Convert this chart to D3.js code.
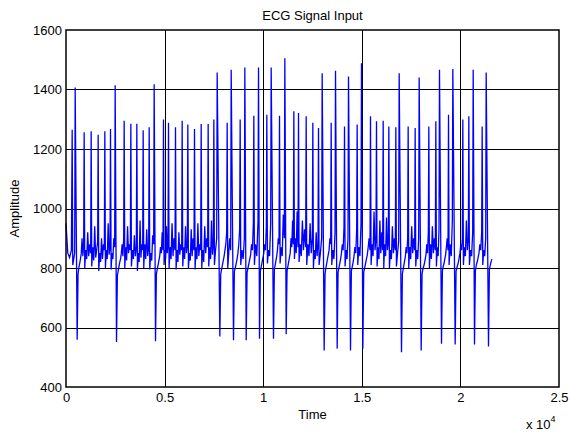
<!DOCTYPE html>
<html>
<head>
<meta charset="utf-8">
<script src="https://cdn.jsdelivr.net/npm/d3@7"></script>
<style>
  body { margin: 0; background: #fff; }
  text { font-family: Arial, "Liberation Sans", Helvetica, sans-serif; }
</style>
</head>
<body>
<div id="container"></div>
<script>
let w = 571;
let h = 432;

// beats: sample index of the R peak, its amplitude
let beatTime = [313, 465, 921, 1276, 1631, 1969, 2257, 2493, 2950, 3288, 3592, 3913, 4218, 4471, 4944, 5198,
  5553, 5891, 6178, 6516, 6855, 7209, 7497, 7666, 8173, 8376, 8832, 9069, 9525, 9762, 10184, 10404,
  10827, 11097, 11554, 11790, 12179, 12517, 12804, 12990, 13447, 13667, 14123, 14325, 14765, 14985,
  15441, 15745, 16084, 16371, 16726, 16895, 17351, 17706, 17909, 18399, 18754, 18940, 19397, 19616,
  20123, 20428, 20648, 21104, 21307];
let beatPeak = [1265, 1407, 1256, 1260, 1248, 1260, 1267, 1414, 1295, 1285, 1285, 1263, 1273, 1418, 1299, 1288,
  1273, 1295, 1282, 1267, 1284, 1284, 1299, 1457, 1288, 1466, 1299, 1474, 1312, 1474, 1315, 1474,
  1312, 1505, 1327, 1321, 1310, 1288, 1271, 1455, 1288, 1463, 1276, 1444, 1282, 1488,
  1310, 1293, 1295, 1276, 1273, 1455, 1276, 1271, 1440, 1276, 1293, 1466, 1315, 1469,
  1299, 1310, 1466, 1276, 1457];
// ectopic beats: where the deep trough lies and how deep (null = normal beat)
let troughTime = [null, 566, null, null, null, null, null, 2561, null, null, null, null, null, 4539, null, null,
  null, null, null, null, null, null, null, 7801, null, 8494, null, 9137, null, 9813, null, 10522,
  null, 11165, null, null, null, null, null, 13092, null, 13751, null, 14427, null, 15053,
  null, null, null, null, null, 17013, null, null, 18011, null, null, 19042, null, 19735,
  null, null, 20715, null, 21425];
let troughValue = [null, 559, null, null, null, null, null, 551, null, null, null, null, null, 554, null, null,
  null, null, null, null, null, null, null, 570, null, 557, null, 557, null, 562, null, 562,
  null, 577, null, null, null, null, null, 523, null, 529, null, 523, null, 529,
  null, null, null, null, null, 517, null, null, 523, null, null, 545, null, 543,
  null, null, 543, null, 536];
// baseline wiggle between beats, estimated by eye
let leadIn = [950, 850, 835, 860];
let rest = [
  [810, 850],
  [780, 800, 815, 830, 850, 900, 840, 880],
  [800, 860, 830, 920, 840, 880, 850],
  [805, 870, 825, 940, 835, 860, 890],
  [790, 850, 820, 900, 830, 880, 860],
  [800, 860, 830, 950, 845, 870],
  [795, 850, 830, 900, 870],
  [775, 790, 805, 820, 830, 850, 880, 840, 900],
  [800, 870, 825, 940, 850, 880, 860],
  [805, 860, 830, 910, 840, 870],
  [790, 850, 820, 960, 835, 880, 860],
  [800, 880, 830, 930, 840, 870],
  [795, 850, 825, 910, 880],
  [780, 795, 810, 825, 840, 870, 850, 920, 860],
  [810, 860, 830, 940, 850, 880],
  [800, 870, 830, 950, 840, 900, 860],
  [795, 860, 820, 920, 845, 880, 860],
  [805, 870, 830, 940, 850, 880],
  [800, 850, 825, 930, 840, 900, 860],
  [795, 870, 830, 950, 840, 880, 860],
  [800, 860, 820, 940, 850, 900, 870],
  [805, 870, 830, 960, 845, 880],
  [810, 860, 900],
  [780, 795, 810, 825, 840, 860, 880, 920],
  [800, 850, 900, 860],
  [790, 800, 815, 830, 850, 880, 930],
  [810, 860, 830, 900],
  [785, 800, 815, 830, 845, 880, 860, 950],
  [810, 880, 840, 960],
  [790, 805, 820, 835, 850, 880, 860, 940],
  [815, 860, 840, 950],
  [795, 810, 825, 840, 860, 900, 880],
  [815, 870, 840, 980, 900],
  [790, 805, 820, 835, 850, 900, 870, 960, 880],
  [830, 900, 850, 990, 870],
  [820, 880, 840, 960, 860, 930, 870],
  [810, 880, 840, 950, 850, 900],
  [800, 860, 830, 920, 840, 880],
  [810, 850, 900],
  [780, 800, 815, 830, 845, 860, 900, 880],
  [810, 860, 830, 920],
  [785, 800, 815, 830, 850, 880, 860, 940],
  [805, 860, 830, 900],
  [790, 805, 820, 840, 870, 850, 930],
  [810, 870, 840, 950],
  [785, 800, 815, 830, 845, 870, 900, 860],
  [810, 880, 840, 990, 860, 900],
  [805, 870, 830, 960, 850, 920, 860],
  [800, 880, 840, 970, 860, 890],
  [800, 860, 830, 940, 850, 900, 860],
  [805, 850, 890],
  [780, 795, 810, 825, 840, 870, 850, 900],
  [800, 870, 830, 940, 850, 900, 860],
  [805, 860, 830, 900],
  [780, 795, 805, 815, 830, 845, 880, 850, 920],
  [800, 880, 830, 940, 850, 900, 860],
  [805, 870, 840, 930],
  [790, 805, 815, 830, 845, 870, 900, 860],
  [810, 880, 840, 960],
  [790, 800, 810, 820, 835, 850, 880, 860, 900],
  [810, 870, 840, 960, 860, 900],
  [810, 860, 840, 920],
  [790, 810, 820, 835, 850, 880, 860, 920],
  [810, 860, 840, 900],
  [795, 815, 830]
];
let endTime = 21594;

let xTicks = [0, 5000, 10000, 15000, 20000, 25000];
let xTickLabels = ["0", "0.5", "1", "1.5", "2", "2.5"];
let yTicks = [400, 600, 800, 1000, 1200, 1400, 1600];

let padLeft = 66, padRight = 559, padTop = 30, padBottom = 387;

let viz = d3.select("#container")
  .append("svg")
    .attr("width", w)
    .attr("height", h)
    .style("background-color", "white")
;

let xScale = d3.scaleLinear().domain([0, 25000]).range([padLeft, padRight]);
let yScale = d3.scaleLinear().domain([400, 1600]).range([padBottom, padTop]);

// build the trace from the beat lists
let pts = [];
leadIn.forEach(function(v, k){
  pts.push([k * (beatTime[0] - 40) / (leadIn.length - 1), v]);
});
beatTime.forEach(function(t, i){
  pts.push([t, beatPeak[i]]);
  let start = t + 30;
  if (troughTime[i] != null){
    pts.push([troughTime[i], troughValue[i]]);
    start = troughTime[i] + 45;
  }
  let stop = (i < beatTime.length - 1) ? beatTime[i + 1] - 25 : endTime;
  let vals = rest[i];
  vals.forEach(function(v, k){
    let tt = vals.length == 1 ? start : start + k * (stop - start) / (vals.length - 1);
    pts.push([tt, v]);
  });
});

// grid
let grid = viz.append("g").attr("class", "grid");
grid.selectAll(".vgrid").data(xTicks.slice(1, -1)).enter()
  .append("line")
    .attr("x1", d => Math.round(xScale(d)) + 0.5)
    .attr("x2", d => Math.round(xScale(d)) + 0.5)
    .attr("y1", padTop)
    .attr("y2", padBottom)
    .attr("stroke", "black")
    .attr("stroke-width", 1)
;
grid.selectAll(".hgrid").data(yTicks.slice(1, -1)).enter()
  .append("line")
    .attr("x1", padLeft)
    .attr("x2", padRight)
    .attr("y1", d => Math.round(yScale(d)) + 0.5)
    .attr("y2", d => Math.round(yScale(d)) + 0.5)
    .attr("stroke", "black")
    .attr("stroke-width", 1)
;

// signal
let line = d3.line()
  .x(d => xScale(d[0]))
  .y(d => yScale(d[1]));
viz.append("path")
  .datum(pts)
  .attr("d", line)
  .attr("fill", "none")
  .attr("stroke", "#0000ff")
  .attr("stroke-width", 1.3)
  .attr("stroke-linejoin", "miter")
;

// box
viz.append("rect")
  .attr("x", padLeft)
  .attr("y", padTop)
  .attr("width", padRight - padLeft)
  .attr("height", padBottom - padTop)
  .attr("fill", "none")
  .attr("stroke", "black")
  .attr("stroke-width", 1.5)
;

// axes
let xAxis = d3.axisBottom(xScale)
  .tickValues(xTicks)
  .tickFormat((d, i) => xTickLabels[i])
  .tickSize(0)
  .tickPadding(6);
let xAxisGroup = viz.append("g").attr("class", "xaxis")
  .attr("transform", "translate(0," + padBottom + ")")
  .call(xAxis);
xAxisGroup.select(".domain").remove();

let yAxis = d3.axisLeft(yScale)
  .tickValues(yTicks)
  .tickFormat(d3.format("d"))
  .tickSize(0)
  .tickPadding(4);
let yAxisGroup = viz.append("g").attr("class", "yaxis")
  .attr("transform", "translate(" + padLeft + ",0)")
  .call(yAxis);
yAxisGroup.select(".domain").remove();

viz.selectAll(".xaxis text, .yaxis text")
  .attr("fill", "black")
  .style("font-size", "13px")
  .style("font-family", "Arial, 'Liberation Sans', sans-serif");

// titles
viz.append("text")
  .text("ECG Signal Input")
  .attr("x", (padLeft + padRight) / 2)
  .attr("y", 20)
  .attr("text-anchor", "middle")
  .style("font-size", "13px");

viz.append("text")
  .text("Time")
  .attr("x", (padLeft + padRight) / 2)
  .attr("y", 419)
  .attr("text-anchor", "middle")
  .style("font-size", "13px");

viz.append("text")
  .text("Amplitude")
  .attr("text-anchor", "middle")
  .attr("transform", "translate(19," + ((padTop + padBottom) / 2) + "),rotate(-90)")
  .style("font-size", "13px");

let expo = viz.append("text")
  .attr("x", 526)
  .attr("y", 429)
  .style("font-size", "13px");
expo.append("tspan").text("x 10");
expo.append("tspan").text("4").attr("dy", -7).style("font-size", "9px");
</script>
</body>
</html>
